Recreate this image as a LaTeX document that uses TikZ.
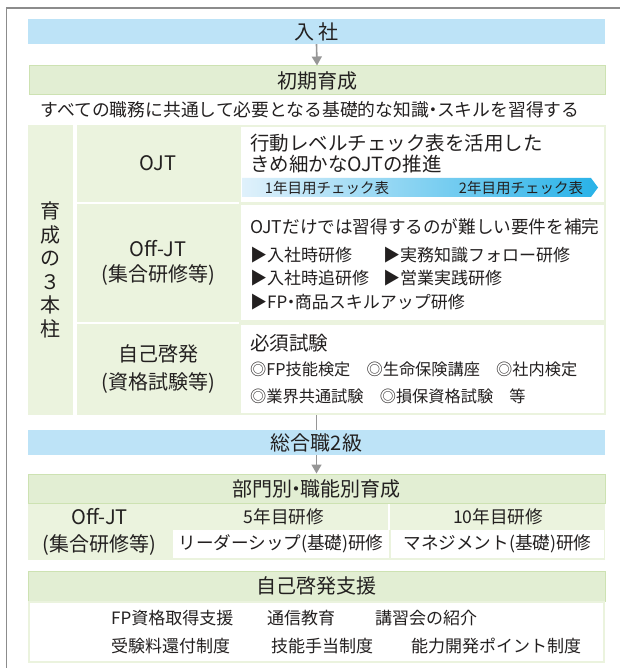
\documentclass[tikz,border=0pt]{standalone}
\usepackage{fontspec}
\setmainfont{Noto Sans CJK JP}
\usetikzlibrary{arrows.meta}
\definecolor{barblue}{RGB}{189,227,247}
\definecolor{hdgreen}{RGB}{226,238,211}
\definecolor{cellgreen}{RGB}{235,243,222}
\definecolor{bordergreen}{RGB}{205,226,178}
\definecolor{arrowgray}{RGB}{150,150,150}
\definecolor{framegray}{RGB}{140,140,140}
\definecolor{txt}{RGB}{35,32,32}
\definecolor{gradL}{RGB}{224,241,251}
\definecolor{gradR}{RGB}{40,178,232}
\newcommand\fsz[2]{\fontsize{#1}{#2}\selectfont}
\newcommand\ndot{\hspace{-0.28em}・\hspace{-0.28em}}
\tikzset{
  bluebar/.style={fill=barblue, inner sep=0, minimum width=577pt, minimum height=25pt, font=\fsz{20}{24}, text=txt},
  greenbar/.style={fill=hdgreen, draw=bordergreen, line width=1pt, inner sep=0, minimum width=576pt, minimum height=29pt, font=\fsz{20}{24}, text=txt},
  cellg/.style={fill=cellgreen, inner sep=0, text=txt, align=center},
  cellw/.style={fill=white, inner sep=0, text=txt, align=center},
  lbl/.style={inner sep=0, text=txt, anchor=west},
  flow/.style={draw=arrowgray, line width=1.6pt, -{Triangle[width=10pt,length=9pt]}},
  flowplain/.style={draw=arrowgray, line width=1.6pt},
}
\begin{document}
\begin{tikzpicture}[x=1pt,y=-1pt]
\useasboundingbox (0,0) rectangle (620,668);
% outer frame
\draw[framegray, line width=1.3pt] (6.5,668) -- (6.5,8) -- (620,8);

% top flow
\node[bluebar] (nyusha) at (316.5,31.5) {入\hspace{4pt}社};
\node[greenbar] (shoki) at (317,80.5) {初期育成};
\draw[flow] (nyusha.south) -- (shoki.north);
\node[inner sep=0, text=txt, font=\fsz{17.8}{20}] (desc) at (310,110) {すべての職務に共通して必要となる基礎的な知識\ndot スキルを習得する};

% three pillars table
\node[cellg, minimum width=45pt, minimum height=290pt, font=\fsz{20}{23.5}] (pillar) at (50.5,270) {育\\成\\の\\３\\本\\柱};
\node[cellg, minimum width=162pt, minimum height=77pt, font=\fsz{20}{24}] (ojtL) at (158,163.5) {OJT};
\node[cellg, minimum width=162pt, minimum height=118pt, font=\fsz{20}{25}] (offL) at (158,263) {Off-JT\\(集合研修等)};
\node[cellg, minimum width=162pt, minimum height=91pt, font=\fsz{20}{28}] (selfL) at (158,369.5) {自己啓発\\(資格試験等)};
\fill[cellgreen] (239,125) rectangle (606,415);
\node[cellw, minimum width=363pt, minimum height=75pt] (ojtR) at (422.5,164.5) {};
\node[cellw, minimum width=363pt, minimum height=115pt] (offR) at (422.5,262.5) {};
\node[cellw, minimum width=363pt, minimum height=88pt] (selfR) at (422.5,369) {};

% OJT right
\node[lbl, font=\fsz{19.5}{20}] (o1) at (250,143) {行動レベルチェック表を活用した};
\node[lbl, font=\fsz{19.5}{20}] (o2) at (250,164) {きめ細かなOJTの推進};
\shade[left color=gradL, right color=gradR] (242,178) -- (591,178) -- (598,187.5) -- (591,197) -- (242,197) -- cycle;
\node[inner sep=0, text=txt, font=\fsz{14.5}{16}] (c1) at (327,187.5) {1年目用チェック表};
\node[inner sep=0, text=txt, font=\fsz{14.5}{16}] (c2) at (521,187.5) {2年目用チェック表};

% Off-JT right
\node[lbl, font=\fsz{17.6}{20}] (f0) at (250,227) {OJTだけでは習得するのが難しい要件を補完};
\node[lbl, font=\fsz{17}{20}] (f1) at (250,255) {▶入社時研修};
\node[lbl, font=\fsz{17}{20}] (f2) at (383,255) {▶実務知識フォロー研修};
\node[lbl, font=\fsz{17}{20}] (f3) at (250,278) {▶入社時追研修};
\node[lbl, font=\fsz{17}{20}] (f4) at (383,278) {▶営業実践研修};
\node[lbl, font=\fsz{17}{20}] (f5) at (250,302) {▶FP\ndot 商品スキルアップ研修};

% self-development right
\node[lbl, font=\fsz{19.5}{20}] (s0) at (250,343) {必須試験};
\node[lbl, font=\fsz{16.2}{20}] (s1) at (250,369) {◎FP技能検定　◎生命保険講座　◎社内検定};
\node[lbl, font=\fsz{16.2}{20}] (s2) at (250,396) {◎業界共通試験　◎損保資格試験　等};

% grade 2
\coordinate (tblbot) at (316.5,415);
\node[bluebar] (sogo) at (316.5,442.5) {総合職2級};
\draw[flowplain] (tblbot) -- (sogo.north);
\node[greenbar, minimum width=577pt] (bumon) at (316.5,488.5) {部門別\ndot 職能別育成};
\draw[flow] (sogo.south) -- (bumon.north);

% department section
\fill[cellgreen] (28,503.5) rectangle (605,560);
\node[cellg, minimum width=143pt, minimum height=56pt, font=\fsz{20}{27}] (bOff) at (99.5,532) {Off-JT\\(集合研修等)};
\node[cellg, minimum width=218pt, minimum height=26pt, font=\fsz{17.6}{20}] (b5) at (280,517) {\hspace{8pt}5年目研修};
\node[cellg, minimum width=214pt, minimum height=26pt, font=\fsz{17.6}{20}] (b10) at (498,517) {10年目研修};
\draw[white, line width=1.5pt] (b5.north east) -- (b5.south east);
\node[cellw, minimum width=216pt, minimum height=28pt, font=\fsz{17.6}{20}] (b5w) at (281,544) {リーダーシップ(基礎)研修};
\node[cellw, minimum width=213pt, minimum height=28pt, font=\fsz{17.6}{20}] (b10w) at (497.5,544) {マネジメント(基礎)研修};

% support section
\node[greenbar, minimum width=577pt, minimum height=30pt] (shien) at (316.5,586) {自己啓発支援};
\node[fill=white, draw=cellgreen, line width=2pt, inner sep=0, minimum width=575pt, minimum height=60pt] (shienB) at (316.5,632) {};
\node[lbl, font=\fsz{17}{20}] (p1) at (111,618) {FP資格取得支援};
\node[lbl, font=\fsz{17}{20}] (p2) at (267,618) {通信教育};
\node[lbl, font=\fsz{17}{20}] (p3) at (375,618) {講習会の紹介};
\node[lbl, font=\fsz{17}{20}] (p4) at (111,646) {受験料還付制度};
\node[lbl, font=\fsz{17}{20}] (p5) at (271,646) {技能手当制度};
\node[lbl, font=\fsz{17}{20}] (p6) at (411,646) {能力開発ポイント制度};
\end{tikzpicture}
\end{document}
